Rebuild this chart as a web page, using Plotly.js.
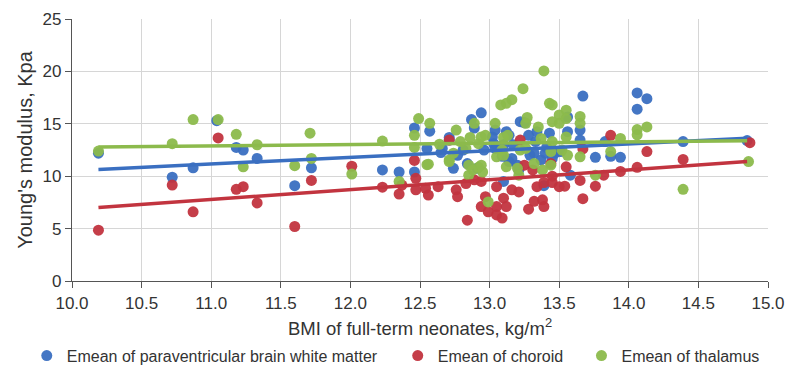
<!DOCTYPE html>
<html>
<head>
<meta charset="utf-8">
<script src="https://cdn.plot.ly/plotly-3.0.1.min.js"></script>
<style>html,body{margin:0;padding:0;background:#fff;}#chart{width:788px;height:391px;}</style>
</head>
<body>
<div id="chart"></div>
<script>
// ---- data ----
const seriesNames = ["Emean of paraventricular brain white matter", "Emean of choroid", "Emean of thalamus"];
const seriesColors = ["#3a6fc1", "#c2343f", "#8cba4c"];

const blueBMI = [10.19,10.72,10.87,11.04,11.18,11.23,11.33,11.60,11.72,12.23,12.35,12.46,12.46,12.57,12.55,12.65,12.66,12.71,12.71,12.74,12.77,12.81,12.84,12.87,12.89,12.91,12.94,12.96,13.02,13.03,13.04,13.04,13.09,13.10,13.10,13.12,13.14,13.14,13.16,13.17,13.20,13.21,13.22,13.25,13.28,13.29,13.32,13.33,13.34,13.37,13.39,13.40,13.41,13.43,13.45,13.47,13.51,13.56,13.56,13.58,13.65,13.65,13.67,13.76,13.83,13.87,13.94,14.06,14.06,14.13,14.39,14.85];
const blueE   = [12.2,9.9,10.8,15.3,12.75,12.5,11.7,9.1,10.8,10.6,10.4,10.4,14.6,14.3,12.65,12.25,12.65,13.7,13.45,10.75,12.0,12.5,11.2,15.4,14.6,10.75,16.05,12.5,13.75,13.1,14.4,12.65,11.9,13.0,9.5,14.25,13.9,11.4,11.7,13.0,11.05,10.6,15.2,15.1,13.9,12.0,12.2,13.3,14.25,11.55,9.1,12.2,12.75,14.1,11.7,12.2,12.35,15.65,14.25,10.1,14.4,13.45,17.65,11.8,13.3,11.9,11.8,17.95,16.4,17.4,13.3,13.4];

const redBMI = [10.19,10.72,10.87,11.05,11.18,11.23,11.33,11.60,11.72,12.01,12.23,12.35,12.37,12.46,12.47,12.47,12.54,12.56,12.63,12.71,12.76,12.77,12.83,12.84,12.89,12.94,12.94,12.97,12.99,13.05,13.05,13.05,13.09,13.10,13.12,13.16,13.21,13.22,13.25,13.28,13.31,13.32,13.34,13.38,13.39,13.39,13.44,13.45,13.45,13.50,13.54,13.55,13.65,13.67,13.67,13.76,13.82,13.87,13.94,14.06,14.13,14.39,14.87];
const redE   = [4.85,9.15,6.6,13.65,8.75,9.0,7.45,5.2,9.6,10.95,8.95,8.3,9.15,11.5,9.8,8.7,8.85,8.2,9.0,13.45,8.7,8.05,9.3,5.8,9.65,9.5,7.1,8.05,6.6,9.0,7.1,6.3,6.0,7.9,7.1,8.7,8.5,13.45,11.05,6.85,10.6,7.6,9.0,7.75,7.1,9.4,11.2,10.0,9.4,9.0,9.05,10.9,9.6,7.85,12.6,9.05,10.1,13.9,10.45,10.85,12.35,11.6,13.2];

const greenBMI = [10.19,10.72,10.87,11.05,11.18,11.23,11.33,11.60,11.71,11.72,12.01,12.23,12.35,12.46,12.46,12.49,12.55,12.56,12.57,12.64,12.71,12.71,12.74,12.76,12.79,12.83,12.85,12.85,12.86,12.88,12.89,12.92,12.92,12.94,12.94,12.95,12.97,12.99,13.04,13.05,13.08,13.09,13.10,13.10,13.12,13.13,13.16,13.12,13.20,13.21,13.22,13.24,13.26,13.27,13.26,13.32,13.35,13.37,13.38,13.39,13.43,13.44,13.44,13.45,13.45,13.45,13.50,13.50,13.52,13.55,13.55,13.55,13.56,13.65,13.65,13.65,13.76,13.87,13.94,14.06,14.06,14.13,14.39,14.86];
const greenE   = [12.4,13.1,15.4,15.4,14.0,10.9,13.0,11.0,14.1,11.7,10.2,13.35,9.5,13.9,12.75,15.5,11.1,11.15,15.05,13.05,11.55,11.4,12.2,14.4,13.3,12.65,11.05,10.1,13.7,10.6,15.05,13.1,10.85,13.75,11.05,10.4,13.9,7.55,15.05,11.85,16.8,12.5,13.7,12.0,10.9,13.9,17.3,16.95,10.75,10.1,12.5,18.35,12.65,15.6,15.05,11.2,14.7,13.6,10.6,20.05,16.95,11.05,12.35,16.8,15.2,13.3,15.85,15.05,12.5,16.3,15.5,13.75,12.0,15.7,15.05,11.85,10.1,12.35,13.6,14.45,13.95,14.7,8.75,11.4];

// linear trend lines (end values)
const trendBMI   = [10.19, 14.85];
const blueTrend  = [10.65, 13.62];
const redTrend   = [7.02, 11.4];
const greenTrend = [12.78, 13.38];

const xTicks = [10.0,10.5,11.0,11.5,12.0,12.5,13.0,13.5,14.0,14.5,15.0];
const yTicks = [0,5,10,15,20,25];

// ---- chart ----
const xs = [blueBMI, redBMI, greenBMI];
const ys = [blueE, redE, greenE];
const trends = [blueTrend, redTrend, greenTrend];
const legendIds = ["legend", "legend2", "legend3"];

const traces = [];
for (let i = 0; i < 3; i++) {
  traces.push({
    type: "scatter", mode: "markers", name: seriesNames[i],
    x: xs[i], y: ys[i], legend: legendIds[i],
    marker: {color: seriesColors[i], size: 11, opacity: 0.95},
    hoverinfo: "x+y"
  });
}
for (let i = 0; i < 3; i++) {
  traces.push({
    type: "scatter", mode: "lines", x: trendBMI, y: trends[i],
    line: {color: seriesColors[i], width: 3.5}, showlegend: false, hoverinfo: "skip"
  });
}

const fam = "Liberation Sans, Arial, sans-serif";
const tickFont = {family: fam, size: 17, color: "#333"};
const legBase = {orientation: "h", yanchor: "middle", y: -0.285, xanchor: "left",
  font: {family: fam, size: 16, color: "#333"},
  bgcolor: "rgba(0,0,0,0)", borderwidth: 0};

const layout = {
  width: 788, height: 391,
  margin: {l: 72, r: 20, t: 19, b: 110},
  paper_bgcolor: "#fff", plot_bgcolor: "#fff",
  font: tickFont,
  showlegend: true,
  xaxis: {
    range: [10, 15], tickvals: xTicks, ticktext: xTicks.map(v => v.toFixed(1)),
    tickfont: tickFont,
    showgrid: true, gridcolor: "#d6d6d6", gridwidth: 1,
    showline: true, linecolor: "#555", linewidth: 1.2,
    ticks: "outside", ticklen: 6, tickcolor: "#555",
    zeroline: false,
    title: {text: "BMI of full-term neonates, kg/m<sup>2</sup>", font: {family: fam, size: 18.5, color: "#333"}, standoff: 10}
  },
  yaxis: {
    range: [0, 25], tickvals: yTicks,
    tickfont: tickFont,
    showgrid: true, gridcolor: "#d6d6d6", gridwidth: 1,
    showline: true, linecolor: "#555", linewidth: 1.2,
    ticks: "outside", ticklen: 6, tickcolor: "#555",
    zeroline: false,
    title: {text: "Young's modulus, Kpa", font: {family: fam, size: 20, color: "#333"}, standoff: 4}
  },
  legend: Object.assign({}, legBase, {x: -0.065}),
  legend2: Object.assign({}, legBase, {x: 0.468}),
  legend3: Object.assign({}, legBase, {x: 0.732})
};

Plotly.newPlot("chart", traces, layout, {displayModeBar: false, staticPlot: true});
</script>
</body>
</html>
